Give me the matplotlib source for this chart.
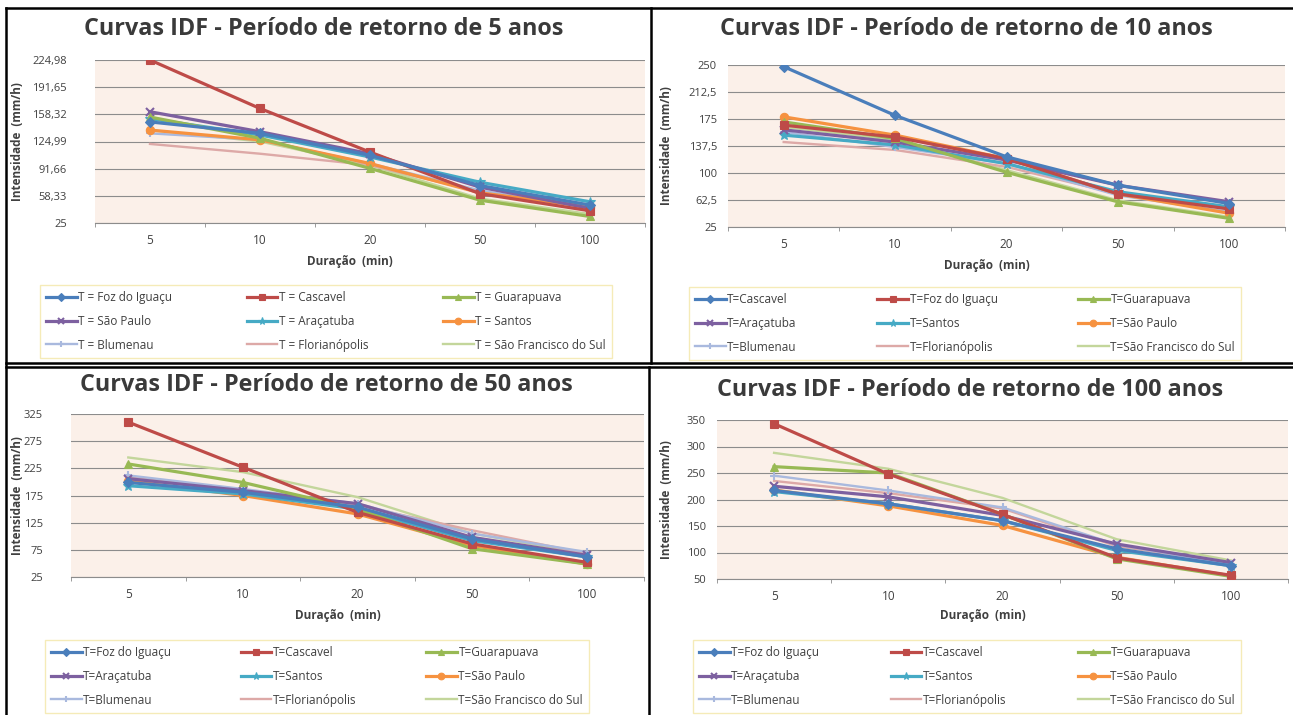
import matplotlib
matplotlib.use("Agg")
import matplotlib.pyplot as plt
from matplotlib.lines import Line2D

plt.rcParams['font.family'] = ['Open Sans', 'DejaVu Sans']

W, H = 1293, 715

durations = ["5", "10", "20", "50", "100"]

# T = 5 anos
names_5 = ["T = Foz do Iguaçu", "T = Cascavel", "T = Guarapuava",
           "T = São Paulo", "T = Araçatuba", "T = Santos",
           "T = Blumenau", "T = Florianópolis", "T = São Francisco do Sul"]
vals_5 = [
    [149, 135, 108, 71, 47],
    [224.98, 165.5, 112, 61, 40],
    [155, 129, 92, 53, 33],
    [161.5, 137, 110, 69, 43],
    [153, 133, 106, 75, 51],
    [139, 127, 98, 62, 45],
    [135, 127, 98, 65, 43],
    [122, 110, 96, 63, 47],
    [139, 125, 96, 55, 36],
]
yticks_5 = [25, 58.33, 91.66, 124.99, 158.32, 191.65, 224.98]

# T = 10 anos
names_10 = ["T=Cascavel", "T=Foz do Iguaçu", "T=Guarapuava",
            "T=Araçatuba", "T=Santos", "T=São Paulo",
            "T=Blumenau", "T=Florianópolis", "T=São Francisco do Sul"]
vals_10 = [
    [247.7, 180, 122.5, 83, 57.5],
    [166.5, 150, 120, 71, 50],
    [171, 148, 101, 60, 37],
    [160, 143, 118, 83, 60],
    [152.6, 139, 113, 74, 53],
    [178, 152.6, 120, 71, 44],
    [157, 136, 113, 69, 46],
    [143, 132, 108.5, 71, 50],
    [164, 146, 104, 62, 39],
]
yticks_10 = [25, 62.5, 100, 137.5, 175, 212.5, 250]

# T = 50 anos
names_50 = ["T=Foz do Iguaçu", "T=Cascavel", "T=Guarapuava",
            "T=Araçatuba", "T=Santos", "T=São Paulo",
            "T=Blumenau", "T=Florianópolis", "T=São Francisco do Sul"]
vals_50 = [
    [199, 181, 153.5, 95, 62],
    [310, 227, 144, 86, 52],
    [233, 199, 150, 77, 49],
    [206, 184, 160, 98, 65],
    [193, 178, 150, 92, 62],
    [202, 175, 141, 83, 49],
    [212, 187, 160, 105, 71],
    [209, 184, 157, 111, 68],
    [245, 218, 172, 105, 68],
]
yticks_50 = [25, 75, 125, 175, 225, 275, 325]

# T = 100 anos
names_100 = names_50
vals_100 = [
    [217, 192, 160, 107, 75],
    [343, 248, 172, 90, 57],
    [262, 250, 172, 88, 55],
    [225, 205, 170, 116, 81],
    [215, 192, 160, 104, 75],
    [218, 188, 151, 91, 56],
    [245, 217, 185, 115, 78],
    [235, 212, 183, 112, 80],
    [288, 258, 203, 125, 85],
]
yticks_100 = [50, 100, 150, 200, 250, 300, 350]

titles = ["Curvas IDF - Período de retorno de 5 anos",
          "Curvas IDF - Período de retorno de 10 anos",
          "Curvas IDF - Período de retorno de 50 anos",
          "Curvas IDF - Período de retorno de 100 anos"]

colors = ['#4A7EBB', '#BE4B48', '#98B954', '#7D60A0', '#46AAC5',
          '#F69240', '#A9B9DE', '#DDA9A7', '#C3D69B']
markers = ['D', 's', '^', 'x', '*', 'o', '+', '', '']
msizes = [5, 6, 6, 6, 7, 6, 6, 0, 0]
lws = [2.3, 2.3, 2.3, 2.3, 2.3, 2.3, 1.7, 1.7, 1.7]

# layout in pixels: plot box, title centre, ylabel x, xlabel y, legend box, ytick pad
panels = [
    dict(plot=(95, 60, 645, 223), title=(324, 29), ylab=18, xlab=261, leg=(40, 285, 612, 357), pad=28),
    dict(plot=(728, 65, 1285, 227), title=(966, 29), ylab=667, xlab=266, leg=(689, 287, 1241, 357), pad=11),
    dict(plot=(71, 414, 644, 577), title=(326, 385), ylab=18, xlab=615, leg=(45, 640, 589, 714), pad=28),
    dict(plot=(717, 420, 1288, 579), title=(970, 390), ylab=667, xlab=616, leg=(693, 640, 1241, 714), pad=11),
]
data = [(names_5, vals_5, yticks_5), (names_10, vals_10, yticks_10),
        (names_50, vals_50, yticks_50), (names_100, vals_100, yticks_100)]


def fx(x):
    return x / W


def fy(y):
    return 1 - y / H


fig = plt.figure(figsize=(W / 100, H / 100), dpi=100)
fig.patch.set_facecolor('white')

for p, (names, vals, yt), title in zip(panels, data, titles):
    x0, y0, x1, y1 = p['plot']
    ax = fig.add_axes([fx(x0), fy(y1), (x1 - x0) / W, (y1 - y0) / H])
    ax.set_facecolor('#FBF0E9')
    xs = range(len(durations))
    handles = []
    for i, (nm, v) in enumerate(zip(names, vals)):
        h, = ax.plot(xs, v, color=colors[i], lw=lws[i], marker=markers[i] or None,
                     ms=msizes[i], mew=1.5 if markers[i] in ('x', '+') else 0.8,
                     label=nm, zorder=3 + (9 - i) * 0.01)
        handles.append(h)
    ax.set_xlim(-0.5, len(durations) - 0.5)
    ax.set_ylim(yt[0], yt[-1])
    ax.set_yticks(yt)
    ax.set_yticklabels([f"{t:g}".replace('.', ',') for t in yt])
    ax.set_xticks(list(xs))
    ax.set_xticklabels(durations)
    ax.set_xticks([k - 0.5 for k in range(len(durations) + 1)], minor=True)
    ax.grid(axis='y', color='#8C8C8C', lw=0.8)
    ax.set_axisbelow(True)
    ax.tick_params(axis='y', length=0, pad=p['pad'] * 0.72, labelsize=8, labelcolor='#404040')
    ax.tick_params(axis='x', which='major', length=0, pad=8, labelsize=8.5, labelcolor='#404040')
    ax.tick_params(axis='x', which='minor', length=3, color='#8C8C8C')
    for s in ['top', 'right', 'left']:
        ax.spines[s].set_visible(False)
    ax.spines['bottom'].set_color('#8C8C8C')

    fig.text(fx(p['title'][0]), fy(p['title'][1]), title, ha='center', va='center',
             fontsize=16.8, fontweight='bold', color='#3A3A3A')
    fig.text(fx((x0 + x1) / 2 - 20), fy(p['xlab']), "Duração  (min)", ha='center', va='center',
             fontsize=8.5, fontweight='bold', color='#404040')
    fig.text(fx(p['ylab']), fy((y0 + y1) / 2), "Intensidade  (mm/h)", ha='center', va='center',
             rotation=90, fontsize=8.5, fontweight='bold', color='#404040')

    lx0, ly0, lx1, ly1 = p['leg']
    order = [0, 3, 6, 1, 4, 7, 2, 5, 8]
    leg = ax.legend([handles[k] for k in order], [names[k] for k in order], ncol=3,
                    loc='upper left', mode='expand',
                    bbox_to_anchor=(fx(lx0), fy(ly1), (lx1 - lx0) / W, (ly1 - ly0) / H),
                    bbox_transform=fig.transFigure, fontsize=8.5, frameon=True,
                    fancybox=False, edgecolor='#F3E6A6', handlelength=2.6,
                    labelspacing=0.92, borderaxespad=0, handletextpad=0.15,
                    borderpad=0.5, markerscale=0.8)
    leg.get_frame().set_linewidth(1)
    for t in leg.get_texts():
        t.set_color('#404040')

# black frame lines between the four pictures
border = [
    ((6, 1293), (8, 8)),
    ((6, 6), (8, 715)),
    ((6, 1293), (363, 363)),
    ((6, 1293), (367, 367)),
    ((651, 651), (8, 363)),
    ((649, 649), (367, 715)),
]
for xx, yy in border:
    fig.add_artist(Line2D([fx(xx[0]), fx(xx[1])], [fy(yy[0]), fy(yy[1])],
                          transform=fig.transFigure, color='black', lw=1.8))

fig.savefig("out.png", dpi=100)
